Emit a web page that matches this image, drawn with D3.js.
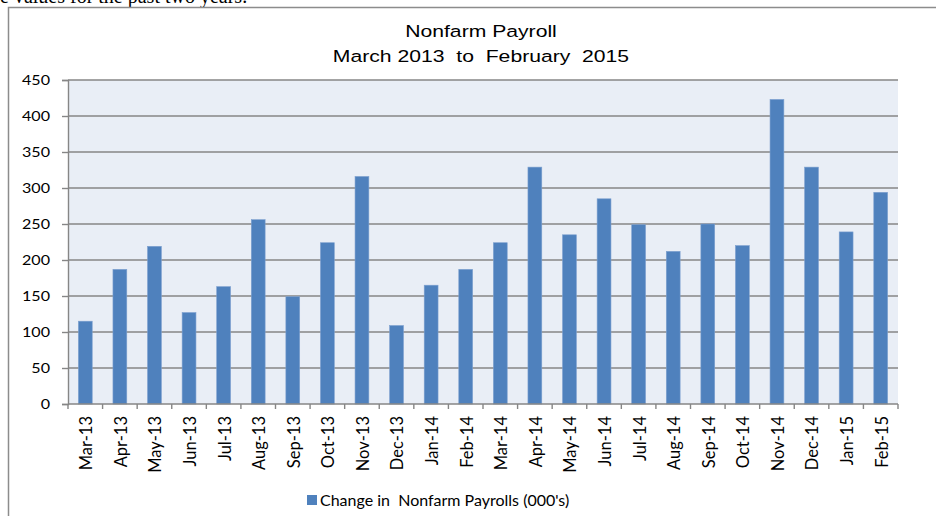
<!DOCTYPE html>
<html>
<head>
<meta charset="utf-8">
<script src="https://cdn.jsdelivr.net/npm/d3@7"></script>
<style>
  body { margin: 0; background: #fff; }
  svg { display: block; }
  text { white-space: pre; }
</style>
</head>
<body>
<svg width="936" height="516"></svg>
<script>
// months on the x axis
var months = ["Mar-13","Apr-13","May-13","Jun-13","Jul-13","Aug-13","Sep-13","Oct-13",
  "Nov-13","Dec-13","Jan-14","Feb-14","Mar-14","Apr-14","May-14","Jun-14",
  "Jul-14","Aug-14","Sep-14","Oct-14","Nov-14","Dec-14","Jan-15","Feb-15"];
// change in nonfarm payrolls, thousands
var payrolls = [115, 187, 219, 127, 163, 256, 149, 224,
  316, 109, 165, 187, 224, 329, 235, 285,
  249, 212, 250, 220, 423, 329, 239, 294];
var yTicks = [0, 50, 100, 150, 200, 250, 300, 350, 400, 450];
var titleLines = ["Nonfarm Payroll", "March 2013  to  February  2015"];
var seriesName = "Change in  Nonfarm Payrolls (000's)";

var svg = d3.select("svg");
var plotL = 68, plotR = 898, plotT = 80, plotB = 404;

// bit of the page text above the chart box, cut off
svg.append("text")
  .attr("x", 0).attr("y", 3)
  .style("font-family", "'Liberation Serif', 'Times New Roman', serif")
  .style("font-size", "20px")
  .text("e values for the past two years.");

// chart frame
svg.append("rect")
  .attr("x", 8.5).attr("y", 7.5)
  .attr("width", 940).attr("height", 520)
  .attr("fill", "#fff")
  .attr("stroke", "#8c8c8c").attr("stroke-width", 1.5);

var x = d3.scaleBand().domain(months).range([plotL, plotR]).paddingInner(0.6).paddingOuter(0.3);
var xb = d3.scaleBand().domain(months).range([plotL, plotR]);
var y = d3.scaleLinear().domain([0, 450]).range([plotB, plotT]);

// plot background
svg.append("rect")
  .attr("x", plotL).attr("y", plotT)
  .attr("width", plotR - plotL).attr("height", plotB - plotT)
  .attr("fill", "#e9eef6");

// gridlines
svg.append("g").selectAll("line")
  .data(yTicks.slice(1))
  .join("line")
  .attr("x1", plotL).attr("x2", plotR)
  .attr("y1", d => y(d)).attr("y2", d => y(d))
  .attr("stroke", "#868686").attr("stroke-width", 1.4);

// bars
svg.append("g").selectAll("rect")
  .data(payrolls)
  .join("rect")
  .attr("x", (d, i) => x(months[i]))
  .attr("y", d => y(d))
  .attr("width", x.bandwidth())
  .attr("height", d => y(0) - y(d))
  .attr("fill", "#4f81bd")
  .attr("stroke", "#7da0cf").attr("stroke-width", 0.6);

// y axis
var yAxis = svg.append("g")
  .attr("transform", "translate(" + plotL + ",0)")
  .call(d3.axisLeft(y).tickValues(yTicks).tickSize(6).tickPadding(0).tickFormat(d3.format("d")));
yAxis.select(".domain").attr("stroke", "#868686").attr("stroke-width", 1.4);
yAxis.selectAll(".tick line").attr("stroke", "#868686").attr("stroke-width", 1.4);
yAxis.selectAll(".tick text").remove();
yAxis.selectAll(".tick").append("text")
  .attr("transform", "translate(-18,0) scale(1.24,1)")
  .attr("text-anchor", "end")
  .attr("dy", "0.36em")
  .attr("fill", "#000")
  .style("font-family", "Lato, 'Open Sans', sans-serif")
  .style("font-size", "13px")
  .text(d => d);

// x axis with ticks on category boundaries
svg.append("line")
  .attr("x1", plotL).attr("x2", plotR)
  .attr("y1", plotB).attr("y2", plotB)
  .attr("stroke", "#868686").attr("stroke-width", 1.4);
var bounds = months.map(m => xb(m)).concat([plotR]);
svg.append("g").selectAll("line")
  .data(bounds)
  .join("line")
  .attr("x1", d => d).attr("x2", d => d)
  .attr("y1", plotB).attr("y2", plotB + 5)
  .attr("stroke", "#868686").attr("stroke-width", 1.4);

svg.append("g").selectAll("text")
  .data(months)
  .join("text")
  .attr("transform", d => "translate(" + (xb(d) + xb.bandwidth() / 2 + 1) + "," + (plotB + 12) + ") rotate(-90)")
  .attr("text-anchor", "end")
  .attr("dy", "0.36em")
  .style("font-family", "Lato, 'Open Sans', sans-serif")
  .style("font-size", "16.5px")
  .text(d => d);

// title
svg.append("g").selectAll("text")
  .data(titleLines)
  .join("text")
  .attr("transform", (d, i) => "translate(481," + (37 + i * 24.5) + ") scale(1.26,1)")
  .attr("text-anchor", "middle")
  .style("font-family", "'Liberation Sans', Arial, sans-serif")
  .style("font-size", "16.8px")
  .text(d => d);

// legend
svg.append("rect")
  .attr("x", 307).attr("y", 495)
  .attr("width", 10).attr("height", 10)
  .attr("fill", "#4f81bd");
svg.append("text")
  .attr("x", 320).attr("y", 506)
  .style("font-family", "Lato, 'Open Sans', sans-serif")
  .style("font-size", "16px")
  .text(seriesName);
</script>
</body>
</html>
